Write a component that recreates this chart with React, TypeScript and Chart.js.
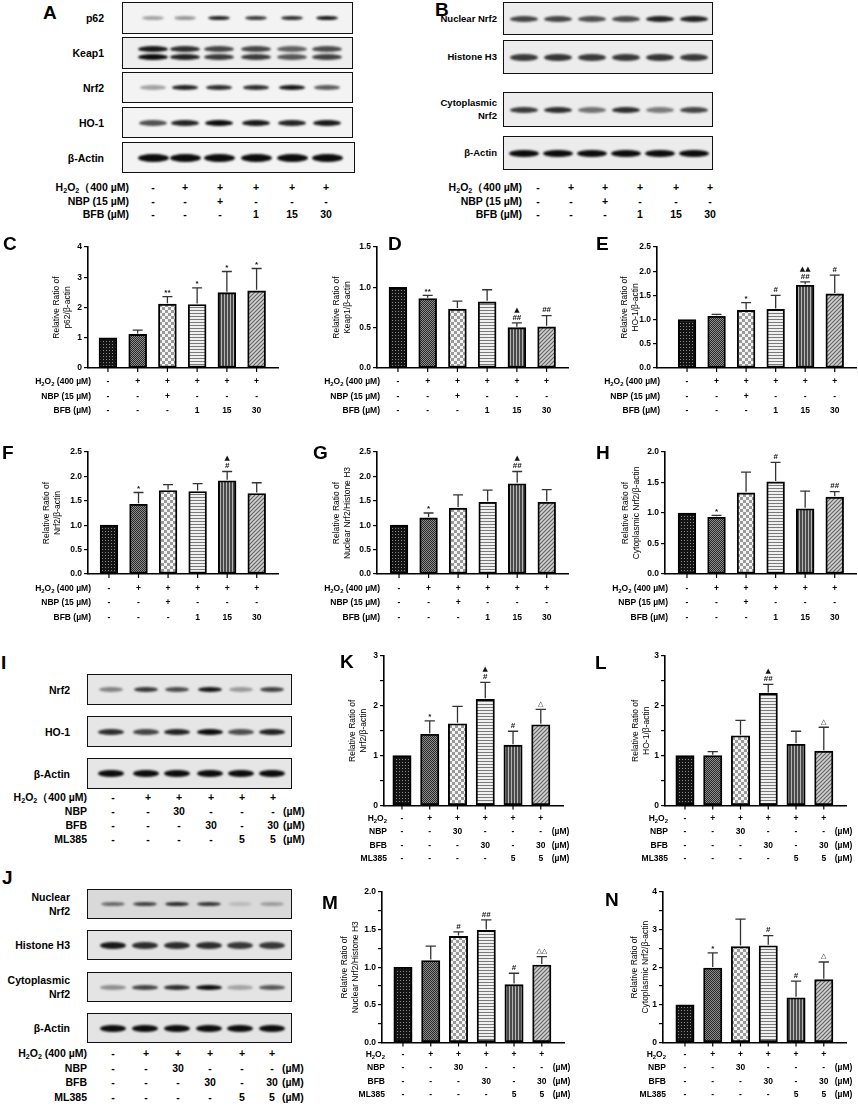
import { useEffect, useRef } from "react";
import { Chart, registerables } from "chart.js";

Chart.register(...registerables);

const FONT = '"Liberation Sans", Arial, Helvetica, sans-serif';
const SYM_FONT = '"DejaVu Sans", sans-serif';

// treatment rows under C-H
const rowLabelsDose = ["H_2O_2 (400 µM)", "NBP (15 µM)", "BFB (µM)"];
const h2o2Row = ["-", "+", "+", "+", "+", "+"];
const nbp15Row = ["-", "-", "+", "-", "-", "-"];
const bfbDoseRow = ["-", "-", "-", "1", "15", "30"];
// treatment rows under K-N
const rowLabelsMl = ["H_2O_2", "NBP", "BFB", "ML385"];
const nbp30Row = ["-", "-", "30", "-", "-", "-"];
const bfb30Row = ["-", "-", "-", "30", "-", "30"];
const ml385Row = ["-", "-", "-", "-", "5", "5"];
const unitsMl = ["", "(µM)", "(µM)", "(µM)"];

// bar values (mean, SD, significance marks)
const p62Mean = [1.0, 1.11, 2.11, 2.1, 2.49, 2.55];
const p62Sd = [0, 0.14, 0.25, 0.55, 0.7, 0.74];
const p62Marks = ["", "", "**", "*", "*", "*"];

const keap1Mean = [1.0, 0.86, 0.73, 0.82, 0.5, 0.51];
const keap1Sd = [0, 0.04, 0.1, 0.15, 0.06, 0.14];
const keap1Marks = ["", "**", "", "", "▲\n##", "##"];

const ho1Mean = [1.0, 1.07, 1.19, 1.21, 1.71, 1.53];
const ho1Sd = [0, 0.04, 0.16, 0.29, 0.07, 0.39];
const ho1Marks = ["", "", "*", "#", "▲▲\n##", "#"];

const nrf2Mean = [1.0, 1.43, 1.71, 1.69, 1.91, 1.65];
const nrf2Sd = [0, 0.24, 0.12, 0.16, 0.19, 0.22];
const nrf2Marks = ["", "*", "", "", "▲\n#", ""];

const nucMean = [1.0, 1.15, 1.35, 1.47, 1.85, 1.47];
const nucSd = [0, 0.1, 0.27, 0.25, 0.25, 0.26];
const nucMarks = ["", "*", "", "", "▲\n##", ""];

const cytoMean = [1.0, 0.93, 1.33, 1.51, 1.07, 1.26];
const cytoSd = [0, 0.03, 0.34, 0.32, 0.29, 0.09];
const cytoMarks = ["", "*", "", "#", "", "##"];

const kNrf2Mean = [1.0, 1.43, 1.64, 2.13, 1.21, 1.62];
const kNrf2Sd = [0, 0.27, 0.35, 0.34, 0.28, 0.31];
const kNrf2Marks = ["", "*", "", "▲\n#", "#", "△"];

const lHo1Mean = [1.0, 1.0, 1.4, 2.25, 1.23, 1.09];
const lHo1Sd = [0, 0.08, 0.31, 0.18, 0.26, 0.48];
const lHo1Marks = ["", "", "", "▲\n##", "", "△"];

const mNucMean = [1.0, 1.09, 1.41, 1.49, 0.77, 1.03];
const mNucSd = [0, 0.19, 0.06, 0.14, 0.15, 0.11];
const mNucMarks = ["", "", "#", "##", "#", "△△"];

const nCytoMean = [1.0, 1.98, 2.55, 2.57, 1.19, 1.67];
const nCytoSd = [0, 0.4, 0.73, 0.27, 0.44, 0.47];
const nCytoMarks = ["", "*", "", "#", "#", "△"];

// blot band intensities (0..1), one per lane
const aP62 = [0.35, 0.4, 0.9, 0.8, 0.85, 0.95];
const aKeap1 = [0.95, 0.85, 0.75, 0.75, 0.62, 0.72];
const aNrf2 = [0.35, 0.9, 0.85, 0.85, 0.95, 0.65];
const aHo1 = [0.7, 0.9, 1, 0.95, 0.9, 0.95];
const aActin = [1, 1, 1, 1, 1, 1];
const bNucNrf2 = [0.75, 0.75, 0.7, 0.72, 0.9, 0.9];
const bHistone = [0.8, 0.82, 0.8, 0.8, 0.82, 0.8];
const bCytoNrf2 = [0.8, 0.85, 0.55, 0.85, 0.5, 0.75];
const bActin = [1, 1, 1, 1, 1, 1];
const iNrf2 = [0.45, 0.8, 0.7, 0.95, 0.35, 0.75];
const iHo1 = [0.85, 0.75, 0.9, 1, 0.7, 0.9];
const iActin = [1, 1, 1, 1, 1, 1];
const jNucNrf2 = [0.55, 0.75, 0.85, 0.8, 0.15, 0.3];
const jHistone = [0.95, 0.85, 0.85, 0.85, 0.8, 0.8];
const jCytoNrf2 = [0.4, 0.75, 0.85, 1, 0.3, 0.65];
const jActin = [1, 1, 1, 1, 1, 1];

type PanelCfg = {
  axisX: number; gap: number; spacing: number; yTop: number; yBottom: number;
  ymax: number; step: number; labelStep: number; decimals: number; titleW: number;
  title: string[]; mean: number[]; sd: number[]; marks: string[];
  rowLabels: string[]; rows: string[][]; units: string[]; rowOffsets: number[];
  xmax: number; barPct: number;
};

const doseRows = [h2o2Row, nbp15Row, bfbDoseRow];
const mlRows = [h2o2Row, nbp30Row, bfb30Row, ml385Row];

const top1 = { yTop: 247, yBottom: 376, rowOffsets: [14, 28.5, 43], rowLabels: rowLabelsDose, rows: doseRows, units: ["", "", ""], xmax: 5.72, barPct: 0.6 };
const top2 = { yTop: 452, yBottom: 582, rowOffsets: [15, 29, 44], rowLabels: rowLabelsDose, rows: doseRows, units: ["", "", ""], xmax: 5.72, barPct: 0.6 };
const low1 = { yTop: 656, yBottom: 813, rowOffsets: [13, 26.5, 40, 53.5], rowLabels: rowLabelsMl, rows: mlRows, units: unitsMl, xmax: 5.8, barPct: 0.66 };
const low2 = { yTop: 892, yBottom: 1050, rowOffsets: [12, 25.5, 39, 52.5], rowLabels: rowLabelsMl, rows: mlRows, units: unitsMl, xmax: 5.8, barPct: 0.66 };

const panels: PanelCfg[] = [
  { ...top1, axisX: 88, gap: 20, spacing: 29.8, ymax: 4, step: 1, labelStep: 1, decimals: 0, titleW: 36, title: ["Relative Ratio of", "p62/β-actin"], mean: p62Mean, sd: p62Sd, marks: p62Marks },
  { ...top1, axisX: 377, gap: 21, spacing: 29.8, ymax: 1.5, step: 0.5, labelStep: 0.5, decimals: 1, titleW: 45, title: ["Relative Ratio of", "Keap1/β-actin"], mean: keap1Mean, sd: keap1Sd, marks: keap1Marks },
  { ...top1, axisX: 657, gap: 30, spacing: 29.5, ymax: 2.5, step: 0.5, labelStep: 0.5, decimals: 1, titleW: 37, title: ["Relative Ratio of", "HO-1/β-actin"], mean: ho1Mean, sd: ho1Sd, marks: ho1Marks },
  { ...top2, axisX: 88, gap: 21, spacing: 29.6, ymax: 2.5, step: 0.5, labelStep: 0.5, decimals: 1, titleW: 46, title: ["Relative Ratio of", "Nrf2/β-actin"], mean: nrf2Mean, sd: nrf2Sd, marks: nrf2Marks },
  { ...top2, axisX: 377, gap: 22, spacing: 29.5, ymax: 2.5, step: 0.5, labelStep: 0.5, decimals: 1, titleW: 45, title: ["Relative Ratio of", "Nuclear Nrf2/Histone H3"], mean: nucMean, sd: nucSd, marks: nucMarks },
  { ...top2, axisX: 665, gap: 22, spacing: 29.6, ymax: 2.0, step: 0.5, labelStep: 0.5, decimals: 1, titleW: 44, title: ["Relative Ratio of", "Cytoplasmic Nrf2/β-actin"], mean: cytoMean, sd: cytoSd, marks: cytoMarks },
  { ...low1, axisX: 384, gap: 18, spacing: 27.8, ymax: 3, step: 0.5, labelStep: 1, decimals: 0, titleW: 36, title: ["Relative Ratio of", "Nrf2/β-actin"], mean: kNrf2Mean, sd: kNrf2Sd, marks: kNrf2Marks },
  { ...low1, axisX: 665, gap: 20, spacing: 27.8, ymax: 3, step: 0.5, labelStep: 1, decimals: 0, titleW: 34, title: ["Relative Ratio of", "HO-1/β-actin"], mean: lHo1Mean, sd: lHo1Sd, marks: lHo1Marks },
  { ...low2, axisX: 382, gap: 21, spacing: 27.8, ymax: 2, step: 0.25, labelStep: 0.5, decimals: 1, titleW: 42, title: ["Relative Ratio of", "Nuclear Nrf2/Histone H3"], mean: mNucMean, sd: mNucSd, marks: mNucMarks },
  { ...low2, axisX: 663, gap: 22, spacing: 27.8, ymax: 4, step: 0.5, labelStep: 1, decimals: 0, titleW: 33, title: ["Relative Ratio of", "Cytoplasmic Nrf2/β-actin"], mean: nCytoMean, sd: nCytoSd, marks: nCytoMarks },
];

const PAD_L = 40;
const PAD_T = 12;
const PAD_R = 6;

function makePatterns(ctx: CanvasRenderingContext2D) {
  const tile = (w: number, h: number, draw: (g: CanvasRenderingContext2D) => void) => {
    const c = document.createElement("canvas");
    c.width = w;
    c.height = h;
    const g = c.getContext("2d")!;
    draw(g);
    return ctx.createPattern(c, "repeat")!;
  };
  return [
    tile(3, 3, (g) => { g.fillStyle = "#141414"; g.fillRect(0, 0, 3, 3); g.fillStyle = "#8a8a8a"; g.fillRect(1, 1, 1, 1); }),
    tile(2, 2, (g) => { g.fillStyle = "#2a2a2a"; g.fillRect(0, 0, 2, 2); g.fillStyle = "#8c8c8c"; g.fillRect(1, 0, 1, 1); g.fillRect(0, 1, 1, 1); }),
    tile(6, 6, (g) => { g.fillStyle = "#f4f4f4"; g.fillRect(0, 0, 6, 6); g.fillStyle = "#9a9a9a"; g.fillRect(0, 0, 3, 3); g.fillRect(3, 3, 3, 3); }),
    tile(1, 3, (g) => { g.fillStyle = "#f0f0f0"; g.fillRect(0, 0, 1, 3); g.fillStyle = "#7a7a7a"; g.fillRect(0, 0, 1, 1); }),
    tile(3, 1, (g) => { g.fillStyle = "#4a4a4a"; g.fillRect(0, 0, 3, 1); g.fillStyle = "#b5b5b5"; g.fillRect(2, 0, 1, 1); }),
    tile(4, 4, (g) => {
      g.fillStyle = "#d0d0d0"; g.fillRect(0, 0, 4, 4);
      g.strokeStyle = "#666"; g.lineWidth = 1.2; g.beginPath();
      g.moveTo(-1, 5); g.lineTo(5, -1); g.moveTo(3, 5); g.lineTo(5, 3); g.moveTo(-1, 1); g.lineTo(1, -1);
      g.stroke();
    }),
  ];
}

function drawRich(ctx: CanvasRenderingContext2D, text: string, xr: number, y: number, size: number) {
  const main = `bold ${size}px ${FONT}`;
  const sub = `bold ${(size * 0.7).toFixed(1)}px ${FONT}`;
  const segs = text.split(/(_\d)/).filter(Boolean).map((s) =>
    s[0] === "_" ? { t: s.slice(1), f: sub, dy: size * 0.3 } : { t: s, f: main, dy: 0 });
  let w = 0;
  for (const s of segs) { ctx.font = s.f; w += ctx.measureText(s.t).width; }
  let x = xr - w;
  ctx.textAlign = "left";
  for (const s of segs) {
    ctx.font = s.f;
    ctx.fillText(s.t, x, y + s.dy);
    x += ctx.measureText(s.t).width;
  }
}

function extrasPlugin(p: PanelCfg) {
  return {
    id: "extras",
    afterDatasetsDraw(chart: any) {
      const { ctx, chartArea } = chart;
      const xs = chart.scales.x;
      const ys = chart.scales.y;
      const bw = p.spacing * p.barPct;
      ctx.save();
      // tick marks under each bar
      ctx.strokeStyle = "#000";
      ctx.lineWidth = 1.2;
      p.mean.forEach((_, i) => {
        const px = xs.getPixelForValue(i);
        ctx.beginPath();
        ctx.moveTo(px, chartArea.bottom);
        ctx.lineTo(px, chartArea.bottom + 4);
        ctx.stroke();
      });
      // error bars and marks
      p.mean.forEach((m, i) => {
        const px = xs.getPixelForValue(i);
        const yMean = ys.getPixelForValue(m);
        const yTop = ys.getPixelForValue(m + p.sd[i]);
        if (p.sd[i] > 0) {
          ctx.strokeStyle = "#333";
          ctx.lineWidth = 1.3;
          ctx.beginPath();
          ctx.moveTo(px, yMean - 1);
          ctx.lineTo(px, yTop);
          ctx.moveTo(px - bw * 0.28, yTop);
          ctx.lineTo(px + bw * 0.28, yTop);
          ctx.stroke();
        }
        if (p.marks[i]) {
          const lines = p.marks[i].split("\n").reverse();
          ctx.fillStyle = "#111";
          ctx.textAlign = "center";
          ctx.textBaseline = "middle";
          lines.forEach((ln, k) => {
            const yy = yTop - 5.5 - k * 7.5;
            if (/[▲△]/.test(ln)) {
              ctx.font = `7px ${SYM_FONT}`;
              ctx.fillText(ln, px, yy);
            } else {
              ctx.font = `bold 8px ${FONT}`;
              ctx.fillText(ln, px, ln.includes("*") ? yy + 1.5 : yy);
            }
          });
        }
      });
      // treatment table
      ctx.fillStyle = "#000";
      ctx.textBaseline = "middle";
      p.rowLabels.forEach((label, r) => {
        const y = chartArea.bottom + p.rowOffsets[r];
        drawRich(ctx, label, chartArea.left + 3, y, 8.5);
        ctx.font = `bold 8.5px ${FONT}`;
        ctx.textAlign = "center";
        p.rows[r].forEach((v, i) => ctx.fillText(v, xs.getPixelForValue(i), y));
        if (p.units[r]) {
          ctx.textAlign = "left";
          ctx.fillText(p.units[r], xs.getPixelForValue(5) + 11, y);
        }
      });
      ctx.restore();
    },
  };
}

function BarPanel({ p }: { p: PanelCfg }) {
  const ref = useRef<HTMLCanvasElement>(null);
  const xmin = -p.gap / p.spacing;
  const areaW = (p.xmax - xmin) * p.spacing;
  const padB = p.rowOffsets[p.rowOffsets.length - 1] + 10;
  const left = p.axisX - p.titleW - PAD_L;
  const top = p.yTop - PAD_T;
  const width = Math.round(PAD_L + p.titleW + areaW + PAD_R);
  const height = Math.round(PAD_T + (p.yBottom - p.yTop) + padB);

  useEffect(() => {
    const canvas = ref.current;
    if (!canvas) return;
    const ctx = canvas.getContext("2d");
    if (!ctx) return;
    const pats = makePatterns(ctx);
    const isLabel = (v: number) => Math.abs(v / p.labelStep - Math.round(v / p.labelStep)) < 1e-6;
    const chart = new Chart(canvas, {
      type: "bar",
      data: {
        datasets: [{
          data: p.mean.map((y, i) => ({ x: i, y })),
          backgroundColor: pats,
          borderColor: "#000",
          borderWidth: 1.9,
          borderSkipped: false,
          barThickness: p.spacing * p.barPct,
        }],
      },
      options: {
        responsive: false,
        animation: false,
        events: [],
        layout: { padding: { left: PAD_L, top: PAD_T, right: PAD_R, bottom: padB } },
        plugins: { legend: { display: false }, tooltip: { enabled: false } },
        scales: {
          x: {
            type: "linear", min: xmin, max: p.xmax, offset: false,
            grid: { display: false }, ticks: { display: false },
            border: { display: true, color: "#000", width: 1.6 },
          },
          y: {
            min: 0, max: p.ymax,
            afterFit: (s: any) => { s.width = p.titleW; },
            ticks: {
              stepSize: p.step, color: "#000", padding: 2, autoSkip: false,
              font: { family: FONT, size: 8.5, weight: "bold" },
              callback: (v: any) => (isLabel(Number(v)) ? Number(v).toFixed(p.decimals) : ""),
            },
            grid: { display: true, drawOnChartArea: false, drawTicks: true, tickLength: 4, color: "#000", lineWidth: 1.2 },
            border: { display: true, color: "#000", width: 1.6 },
            title: { display: true, text: p.title, color: "#000", padding: 0, font: { family: FONT, size: 8.5 } },
          },
        },
      } as any,
      plugins: [extrasPlugin(p)],
    });
    return () => chart.destroy();
  }, [p]);

  return <canvas ref={ref} width={width} height={height} style={{ position: "absolute", left, top, width, height }} />;
}

function Rich({ text }: { text: string }) {
  const parts = text.split(/(_\d)/).filter(Boolean);
  return (
    <>
      {parts.map((s, i) =>
        s[0] === "_" ? (
          <sub key={i} style={{ fontSize: "0.68em", verticalAlign: "-0.3em", lineHeight: 0 }}>{s.slice(1)}</sub>
        ) : (
          <span key={i}>{s}</span>
        ))}
    </>
  );
}

function Txt({ x, y, text, align = "right", size = 10.5 }: { x: number; y: number; text: string; align?: string; size?: number }) {
  const tx = align === "right" ? "-100%" : align === "center" ? "-50%" : "0";
  return (
    <div style={{ position: "absolute", left: x, top: y, transform: `translate(${tx}, -50%)`, fontSize: size, fontWeight: 700, lineHeight: 1, whiteSpace: "nowrap" }}>
      <Rich text={text} />
    </div>
  );
}

type Strip = { label: string[]; labelX: number; box: number[]; lanes: number[]; levels: number[]; bw: number; bh: number; bg: string; double?: boolean; size?: number };

function BlotStrip({ s }: { s: Strip }) {
  const [bx, by, w, h] = s.box;
  const cy = by + h / 2;
  const bands: { x: number; y: number; a: number; hh: number }[] = [];
  s.levels.forEach((a, i) => {
    if (s.double) {
      bands.push({ x: s.lanes[i], y: cy - 4, a, hh: s.bh });
      bands.push({ x: s.lanes[i], y: cy + 4, a: Math.min(1, a + 0.05), hh: s.bh });
    } else {
      bands.push({ x: s.lanes[i], y: cy, a, hh: s.bh });
    }
  });
  const size = s.size ?? 10.5;
  const gapL = size * 1.35;
  return (
    <>
      <div style={{ position: "absolute", left: bx, top: by, width: w, height: h, boxSizing: "border-box", border: "1.5px solid #111", background: s.bg, overflow: "hidden" }} />
      {bands.map((b, k) => (
        <div key={k} style={{ position: "absolute", left: b.x - s.bw / 2, top: b.y - b.hh / 2, width: s.bw, height: b.hh, borderRadius: "50%", background: `rgba(12,12,12,${b.a})`, filter: "blur(1px)" }} />
      ))}
      {s.label.map((t, k) => (
        <Txt key={k} x={s.labelX} y={cy + (k - (s.label.length - 1) / 2) * gapL} text={t} size={size} />
      ))}
    </>
  );
}

function BlotTable({ labels, rows, cols, ys, labelX, units }: { labels: string[]; rows: string[][]; cols: number[]; ys: number[]; labelX: number; units?: string[] }) {
  return (
    <>
      {labels.map((l, r) => (
        <div key={r}>
          <Txt x={labelX} y={ys[r]} text={l} />
          {rows[r].map((v, i) => <Txt key={i} x={cols[i]} y={ys[r]} text={v} align="center" />)}
          {units && units[r] ? <Txt x={cols[5] + 10} y={ys[r]} text={units[r]} align="left" /> : null}
        </div>
      ))}
    </>
  );
}

const lanesA = [153, 185, 219, 256, 292, 327];
const lanesB = [524, 558, 592, 626, 660, 694];
const lanesI = [111, 146, 177, 210, 241, 272];
const lanesJ = [113, 145, 177, 209, 240, 272];

const strips: Strip[] = [
  { label: ["p62"], labelX: 104, box: [122, 2, 231, 32], lanes: lanesA, levels: aP62, bw: 22, bh: 4, bg: "#f3f3f3" },
  { label: ["Keap1"], labelX: 104, box: [122, 37, 231, 32], lanes: lanesA, levels: aKeap1, bw: 30, bh: 6, bg: "#eeeeee", double: true },
  { label: ["Nrf2"], labelX: 104, box: [122, 72, 231, 31], lanes: lanesA, levels: aNrf2, bw: 26, bh: 5, bg: "#f3f3f3" },
  { label: ["HO-1"], labelX: 104, box: [122, 107, 231, 31], lanes: lanesA, levels: aHo1, bw: 28, bh: 6, bg: "#f3f3f3" },
  { label: ["β-Actin"], labelX: 104, box: [122, 142, 233, 31], lanes: lanesA, levels: aActin, bw: 31, bh: 8, bg: "#f3f3f3" },
  { label: ["Nuclear Nrf2"], labelX: 497, box: [503, 2, 210, 33], lanes: lanesB, levels: bNucNrf2, bw: 28, bh: 6, bg: "#ececec", size: 9.5 },
  { label: ["Histone H3"], labelX: 497, box: [503, 40, 210, 34], lanes: lanesB, levels: bHistone, bw: 28, bh: 7, bg: "#ececec", size: 9.5 },
  { label: ["Cytoplasmic", "Nrf2"], labelX: 497, box: [503, 92, 210, 35], lanes: lanesB, levels: bCytoNrf2, bw: 28, bh: 6, bg: "#ececec", size: 9.5 },
  { label: ["β-Actin"], labelX: 497, box: [503, 136, 210, 34], lanes: lanesB, levels: bActin, bw: 30, bh: 7, bg: "#ececec", size: 9.5 },
  { label: ["Nrf2"], labelX: 70, box: [87, 674, 205, 31], lanes: lanesI, levels: iNrf2, bw: 24, bh: 5, bg: "#e6e6e6" },
  { label: ["HO-1"], labelX: 70, box: [87, 716, 205, 31], lanes: lanesI, levels: iHo1, bw: 26, bh: 6, bg: "#e6e6e6" },
  { label: ["β-Actin"], labelX: 70, box: [87, 758, 205, 31], lanes: lanesI, levels: iActin, bw: 26, bh: 7, bg: "#e6e6e6" },
  { label: ["Nuclear", "Nrf2"], labelX: 70, box: [87, 889, 205, 30], lanes: lanesJ, levels: jNucNrf2, bw: 24, bh: 4, bg: "#d9d9d9" },
  { label: ["Histone H3"], labelX: 70, box: [87, 930, 205, 30], lanes: lanesJ, levels: jHistone, bw: 26, bh: 7, bg: "#e4e4e4" },
  { label: ["Cytoplasmic", "Nrf2"], labelX: 70, box: [87, 972, 205, 30], lanes: lanesJ, levels: jCytoNrf2, bw: 26, bh: 5, bg: "#e4e4e4" },
  { label: ["β-Actin"], labelX: 70, box: [87, 1013, 205, 30], lanes: lanesJ, levels: jActin, bw: 26, bh: 7, bg: "#e4e4e4" },
];

const letters: [string, number, number][] = [
  ["A", 43, 5], ["B", 435, 2], ["C", 3, 236], ["D", 388, 236], ["E", 596, 236],
  ["F", 2, 445], ["G", 313, 445], ["H", 596, 445], ["I", 1, 655], ["K", 340, 654],
  ["L", 595, 655], ["J", 2, 870], ["M", 322, 895], ["N", 605, 892],
];

export default function App() {
  return (
    <div style={{ position: "absolute", left: 0, top: 0, width: 858, height: 1110, background: "#fff", overflow: "hidden", fontFamily: FONT, color: "#000" }}>
      {strips.map((s, i) => <BlotStrip key={i} s={s} />)}
      <BlotTable labels={["H_2O_2（400 µM)", "NBP (15 µM)", "BFB (µM)"]} rows={doseRows} cols={[153, 185, 220, 256, 292, 326]} ys={[187, 201, 214]} labelX={129} />
      <BlotTable labels={["H_2O_2（400 µM)", "NBP (15 µM)", "BFB (µM)"]} rows={doseRows} cols={[538, 571, 605, 640, 676, 710]} ys={[187, 201, 214]} labelX={522} />
      <BlotTable labels={["H_2O_2（400 µM)", "NBP", "BFB", "ML385"]} rows={mlRows} cols={[113, 148, 179, 211, 242, 273]} ys={[797, 811, 825, 839]} labelX={87} units={unitsMl} />
      <BlotTable labels={["H_2O_2 (400 µM)", "NBP", "BFB", "ML385"]} rows={mlRows} cols={[113, 146, 178, 210, 242, 272]} ys={[1053, 1068, 1082, 1097]} labelX={87} units={unitsMl} />
      {panels.map((p, i) => <BarPanel key={i} p={p} />)}
      {letters.map(([t, x, y]) => (
        <div key={t} style={{ position: "absolute", left: x, top: y - 2.5, fontSize: 19, lineHeight: "19px", fontWeight: 700 }}>{t}</div>
      ))}
    </div>
  );
}
